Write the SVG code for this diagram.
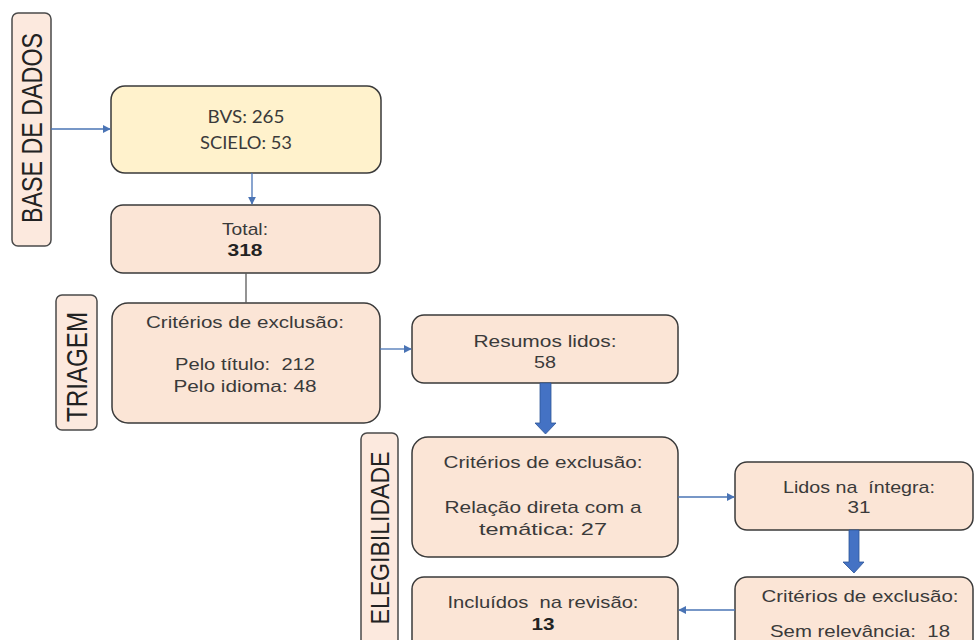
<svg xmlns="http://www.w3.org/2000/svg" width="976" height="640" viewBox="0 0 976 640">
<defs>
<style>
.box{fill:#fbe5d6;stroke:#3a3a3a;stroke-width:1.5}
.ybox{fill:#fff2cc;stroke:#3a3a3a;stroke-width:1.5}
.lbl{fill:#fce9de;stroke:#4a4a4a;stroke-width:1.5}
text{white-space:pre}
.t{font-family:"Liberation Sans",Arial,sans-serif;font-size:17px;fill:#3a3a3a;text-anchor:middle}
.c{font-family:Lato,"Liberation Sans",sans-serif;font-size:17px;fill:#3a3a3a;text-anchor:middle}
.b{font-weight:bold;fill:#222}
.v{font-family:"Liberation Sans",Arial,sans-serif;font-size:24px;fill:#222;text-anchor:middle}
.ln{stroke:#4a74b5;stroke-width:1.3;fill:none}
.big{fill:#4472c4;stroke:#2f5597;stroke-width:0.8}
</style>
<marker id="ah" viewBox="0 0 10 10" refX="9" refY="5" markerWidth="8" markerHeight="8" markerUnits="userSpaceOnUse" orient="auto">
<path d="M0,0 L10,5 L0,10 z" fill="#4a74b5"/>
</marker>
</defs>

<g id="label-base">
<rect class="lbl" x="12" y="13" width="39" height="233" rx="6"/>
<text class="v" transform="translate(42,128) scale(1.2,1) rotate(-90)" textLength="190" lengthAdjust="spacingAndGlyphs">BASE DE DADOS</text>
</g>
<g id="label-triagem">
<rect class="lbl" x="56" y="295" width="41" height="135" rx="6"/>
<text class="v" transform="translate(87,367) scale(1.2,1) rotate(-90)" textLength="110" lengthAdjust="spacingAndGlyphs">TRIAGEM</text>
</g>
<g id="label-elegibilidade">
<rect class="lbl" x="361" y="433" width="37" height="220" rx="6"/>
<text class="v" transform="translate(389,538) scale(1.05,1) rotate(-90)" textLength="173" lengthAdjust="spacingAndGlyphs">ELEGIBILIDADE</text>
</g>

<g id="bases">
<rect class="ybox" x="111" y="86" width="270" height="87" rx="14"/>
<text class="c" x="246" y="123" textLength="77" lengthAdjust="spacingAndGlyphs">BVS: 265</text>
<text class="c" x="246" y="149" textLength="92" lengthAdjust="spacingAndGlyphs">SCIELO: 53</text>
</g>
<g id="total">
<rect class="box" x="111" y="205" width="269" height="68" rx="12"/>
<text class="t" x="245" y="235" textLength="46" lengthAdjust="spacingAndGlyphs">Total:</text>
<text class="t b" x="245" y="256" textLength="35" lengthAdjust="spacingAndGlyphs">318</text>
</g>
<g id="triagem-exclusao">
<rect class="box" x="112" y="303" width="268" height="120" rx="16"/>
<text class="t" x="245" y="328" textLength="198" lengthAdjust="spacingAndGlyphs">Critérios de exclusão:</text>
<text class="t" x="245" y="370" textLength="140" lengthAdjust="spacingAndGlyphs">Pelo título:  212</text>
<text class="t" x="245" y="392" textLength="143" lengthAdjust="spacingAndGlyphs">Pelo idioma: 48</text>
</g>
<g id="resumos">
<rect class="box" x="412" y="315" width="266" height="68" rx="12"/>
<text class="t" x="545" y="347" textLength="143" lengthAdjust="spacingAndGlyphs">Resumos lidos:</text>
<text class="t" x="545" y="368" textLength="22" lengthAdjust="spacingAndGlyphs">58</text>
</g>
<g id="eleg-exclusao">
<rect class="box" x="412" y="437" width="266" height="120" rx="16"/>
<text class="t" x="543" y="468" textLength="199" lengthAdjust="spacingAndGlyphs">Critérios de exclusão:</text>
<text class="t" x="543" y="513" textLength="197" lengthAdjust="spacingAndGlyphs">Relação direta com a</text>
<text class="t" x="543" y="535" textLength="128" lengthAdjust="spacingAndGlyphs">temática: 27</text>
</g>
<g id="incluidos">
<rect class="box" x="412" y="577" width="266" height="80" rx="12"/>
<text class="t" x="543" y="608" textLength="191" lengthAdjust="spacingAndGlyphs">Incluídos  na revisão:</text>
<text class="t b" x="543" y="630" textLength="23" lengthAdjust="spacingAndGlyphs">13</text>
</g>
<g id="integra">
<rect class="box" x="735" y="462" width="238" height="68" rx="12"/>
<text class="t" x="859" y="493" textLength="152" lengthAdjust="spacingAndGlyphs">Lidos na  íntegra:</text>
<text class="t" x="859" y="513" textLength="23" lengthAdjust="spacingAndGlyphs">31</text>
</g>
<g id="relevancia">
<rect class="box" x="735" y="577" width="238" height="80" rx="12"/>
<text class="t" x="860" y="602" textLength="197" lengthAdjust="spacingAndGlyphs">Critérios de exclusão:</text>
<text class="t" x="860" y="637" textLength="180" lengthAdjust="spacingAndGlyphs">Sem relevância:  18</text>
</g>

<g id="connectors">
<line class="ln" x1="51" y1="129" x2="110" y2="129" marker-end="url(#ah)"/>
<line class="ln" x1="252" y1="173" x2="252" y2="204" marker-end="url(#ah)"/>
<line x1="246" y1="273" x2="246" y2="303" stroke="#5a5a5a" stroke-width="1.3"/>
<line class="ln" x1="380" y1="349" x2="411" y2="349" marker-end="url(#ah)"/>
<line class="ln" x1="678" y1="497" x2="734" y2="497" marker-end="url(#ah)"/>
<line class="ln" x1="735" y1="610" x2="679" y2="610" marker-end="url(#ah)"/>
<path class="big" d="M540,383 L551,383 L551,423 L556,423 L545.5,434 L535,423 L540,423 z"/>
<path class="big" d="M849,530 L859,530 L859,562 L864,562 L854,573 L843,562 L849,562 z"/>
</g>
</svg>
